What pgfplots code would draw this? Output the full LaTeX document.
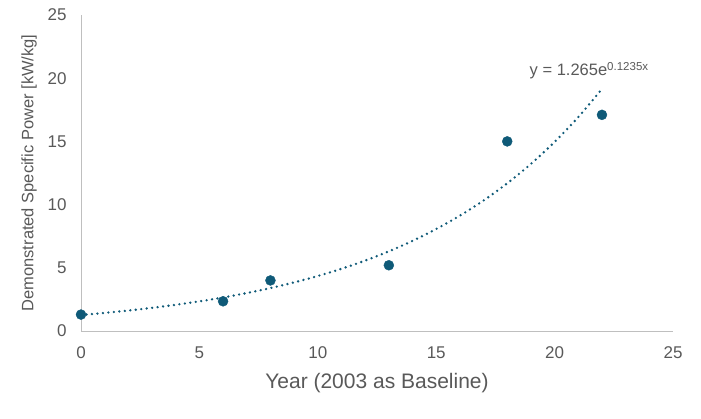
\documentclass[border=0pt]{standalone}
\usepackage{fontspec}
\setmainfont{Liberation Sans}
\usepackage{pgfplots}
\pgfplotsset{compat=1.18}
\definecolor{pt}{HTML}{0F5A78}
\definecolor{txt}{HTML}{595959}
\definecolor{ax}{HTML}{BFBFBF}
\begin{document}
\begin{tikzpicture}[x=1pt,y=1pt]
\path[use as bounding box] (0,0) rectangle (701,419);
\begin{axis}[
  at={(81pt,88pt)}, anchor=south west,
  scale only axis, width=592pt, height=316pt,
  xmin=0, xmax=25, ymin=0, ymax=25,
  xtick={0,5,...,25}, ytick={0,5,...,25},
  axis lines=left, axis line style={ax, line width=0.8pt, -},
  major tick length=0pt,
  tick label style={font=\fontsize{17}{17}\selectfont, text=txt},
  /pgf/number format/assume math mode=true,
  xticklabel style={yshift=-12pt},
  yticklabel style={xshift=-11pt},
  xlabel={Year (2003 as Baseline)},
  ylabel={Demonstrated Specific Power [kW/kg]},
  xlabel style={font=\fontsize{21}{21}\selectfont, text=txt, yshift=-8pt},
  ylabel style={font=\fontsize{16.5}{16.5}\selectfont, text=txt, yshift=4pt},
  clip=false,
]
\addplot[pt, line width=2.6pt, line cap=round, dash pattern=on 0pt off 5.5pt, smooth] coordinates {
(0,1.265)(1,1.4313)(2,1.6195)(3,1.8324)(4,2.0733)(5,2.3458)(6,2.6542)(7,3.0031)(8,3.3979)(9,3.8446)(10,4.3501)(11,4.9219)(12,5.5690)(13,6.3011)(14,7.1294)(15,8.0667)(16,9.1271)(17,10.327)(18,11.684)(19,13.220)(20,14.958)(21,16.924)(22,19.149)
};
\addplot[only marks, mark=*, mark size=5pt, mark options={fill=pt, draw=pt}] coordinates {
(0,1.3)(6,2.35)(8,4.0)(13,5.2)(18,15.0)(22,17.1)
};
\node[anchor=center, text=txt, font=\fontsize{16.5}{16.5}\selectfont] at (axis cs:21.45,20.6) {y = 1.265e\raisebox{0.65ex}{\fontsize{11.5}{11.5}\selectfont 0.1235x}};
\end{axis}
\end{tikzpicture}
\end{document}
